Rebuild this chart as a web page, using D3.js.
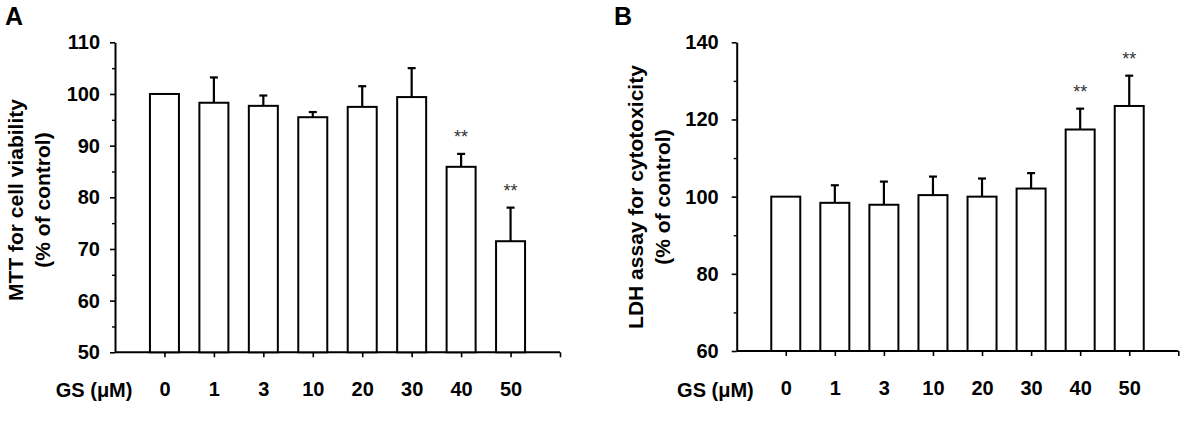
<!DOCTYPE html>
<html>
<head>
<meta charset="utf-8">
<script src="https://cdn.jsdelivr.net/npm/d3@7"></script>
<style>
  html, body { margin: 0; padding: 0; background: #fff; }
  svg { display: block; font-family: "Liberation Sans", Arial, sans-serif; }
</style>
</head>
<body>
<svg id="chart" width="1200" height="437"></svg>
<script>
// ---- data ----
const categories = ["0", "1", "3", "10", "20", "30", "40", "50"];
const mttMean = [100, 98.3, 97.7, 95.5, 97.5, 99.4, 85.9, 71.5];
const mttSD   = [0, 4.9, 2.0, 1.0, 4.0, 5.6, 2.5, 6.5];
const ldhMean = [100, 98.4, 97.9, 100.4, 100.0, 102.1, 117.4, 123.5];
const ldhSD   = [0, 4.55, 6.0, 4.8, 4.7, 4.0, 5.4, 7.85];
const mttSig  = ["", "", "", "", "", "", "**", "**"];
const ldhSig  = ["", "", "", "", "", "", "**", "**"];
const mttTicks = [50, 60, 70, 80, 90, 100, 110];
const mttMinor = [55, 65, 75, 85, 95, 105];
const ldhTicks = [60, 80, 100, 120, 140];
const ldhMinor = [70, 90, 110, 130];
const xLabel = "GS (\u03BCM)";

const svg = d3.select("#chart");

function panel(opt) {
  const g = svg.append("g");
  const x = d3.scaleLinear().domain([-1, categories.length]).range([opt.x0, opt.x1]);
  const y = d3.scaleLinear().domain(opt.yDomain).range([opt.yBottom, opt.yTop]);

  // panel letter
  g.append("text").attr("x", opt.letterX).attr("y", 25)
    .attr("font-size", 25).attr("font-weight", "bold").text(opt.letter);

  // y axis major
  const ya = g.append("g").attr("transform", `translate(${opt.x0},0)`)
    .call(d3.axisLeft(y).tickValues(opt.ticks).tickSize(5).tickPadding(opt.tickPad).tickSizeOuter(0).tickFormat(d3.format("d")));
  ya.select(".domain").attr("stroke", "#000").attr("stroke-width", 2);
  ya.selectAll(".tick line").attr("stroke", "#000").attr("stroke-width", 1.6);
  ya.selectAll("text").attr("font-size", 20).attr("font-weight", "bold").attr("fill", "#000")
    .attr("font-family", "Liberation Sans, Arial, sans-serif");
  // y axis minor
  const ym = g.append("g").attr("transform", `translate(${opt.x0},0)`)
    .call(d3.axisLeft(y).tickValues(opt.minor).tickSize(3).tickFormat(""));
  ym.select(".domain").remove();
  ym.selectAll(".tick line").attr("stroke", "#000").attr("stroke-width", 1.4);

  // x axis
  const idx = d3.range(categories.length + 1);
  const xa = g.append("g").attr("transform", `translate(0,${opt.yBottom})`)
    .call(d3.axisBottom(x).tickValues(idx).tickSize(5).tickPadding(25).tickSizeOuter(0)
      .tickFormat(i => categories[i] || ""));
  xa.select(".domain").attr("stroke", "#000").attr("stroke-width", 2)
    .attr("d", `M${opt.x0},0H${opt.x1}`);
  xa.selectAll(".tick line").attr("stroke", "#000").attr("stroke-width", 1.6);
  xa.selectAll("text").attr("font-size", 20).attr("font-weight", "bold").attr("fill", "#000")
    .attr("font-family", "Liberation Sans, Arial, sans-serif");

  g.append("text").attr("x", x(0) - 32).attr("y", 397)
    .attr("text-anchor", "end").attr("font-size", 20).attr("font-weight", "bold")
    .text(xLabel);

  // bars
  const bw = 29;
  const data = categories.map((c, i) => ({ i, m: opt.mean[i], sd: opt.sd[i], s: opt.sig[i] }));
  // error bars
  const eb = g.selectAll(".eb").data(data.filter(d => d.sd > 0)).join("g");
  eb.append("line").attr("x1", d => x(d.i)).attr("x2", d => x(d.i))
    .attr("y1", d => y(d.m)).attr("y2", d => y(d.m + d.sd))
    .attr("stroke", "#000").attr("stroke-width", 2.2);
  eb.append("line").attr("x1", d => x(d.i) - 4).attr("x2", d => x(d.i) + 4)
    .attr("y1", d => y(d.m + d.sd)).attr("y2", d => y(d.m + d.sd))
    .attr("stroke", "#000").attr("stroke-width", 2.2);

  g.selectAll(".bar").data(data).join("rect")
    .attr("x", d => x(d.i) - bw / 2).attr("width", bw)
    .attr("y", d => y(d.m)).attr("height", d => y(opt.yDomain[0]) - y(d.m))
    .attr("fill", "#fff").attr("stroke", "#000").attr("stroke-width", 2);

  // significance
  g.selectAll(".sig").data(data.filter(d => d.s)).join("text")
    .attr("x", d => x(d.i)).attr("y", d => y(d.m + d.sd) - 11)
    .attr("text-anchor", "middle").attr("font-size", 18).attr("fill", "#333")
    .text(d => d.s);

  // y title
  g.append("text")
    .attr("transform", `translate(${opt.titleX},${opt.titleY}) rotate(-90)`)
    .attr("text-anchor", "middle").attr("font-size", 21).attr("font-weight", "bold")
    .selectAll("tspan").data(opt.title).join("tspan")
    .attr("x", 0).attr("dy", (d, i) => i === 0 ? 0 : 27).text(d => d);
}

panel({
  letter: "A", letterX: 5,
  x0: 115, x1: 560, yTop: 42.3, yBottom: 352.3, yDomain: [50, 110],
  ticks: mttTicks, minor: mttMinor, tickPad: 10,
  mean: mttMean, sd: mttSD, sig: mttSig,
  title: ["MTT for cell viability", "(% of control)"], titleX: 23, titleY: 200
});
panel({
  letter: "B", letterX: 614,
  x0: 736.7, x1: 1178.3, yTop: 42.3, yBottom: 351, yDomain: [60, 140],
  ticks: ldhTicks, minor: ldhMinor, tickPad: 13,
  mean: ldhMean, sd: ldhSD, sig: ldhSig,
  title: ["LDH assay for cytotoxicity", "(% of control)"], titleX: 643, titleY: 197
});
</script>
</body>
</html>
